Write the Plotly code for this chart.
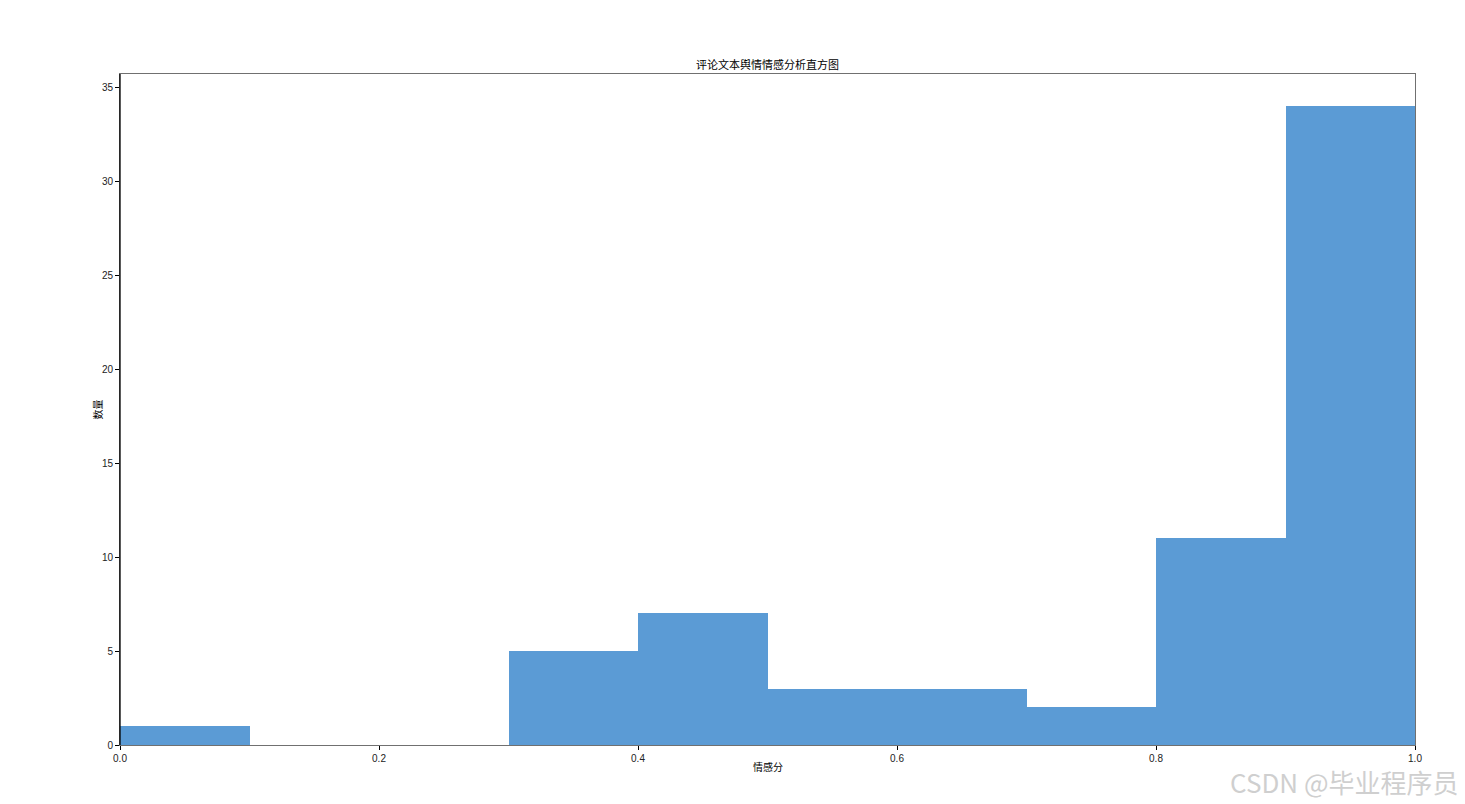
import plotly.graph_objects as go

bin_edges = [0.0, 0.1, 0.2, 0.3, 0.4, 0.5, 0.6, 0.7, 0.8, 0.9, 1.0]
counts = [1, 0, 0, 5, 7, 3, 3, 2, 11, 34]
x_ticks = [0.0, 0.2, 0.4, 0.6, 0.8, 1.0]
x_tick_labels = ["0.0", "0.2", "0.4", "0.6", "0.8", "1.0"]
y_ticks = [0, 5, 10, 15, 20, 25, 30, 35]

title_text = "评论文本舆情情感分析直方图"
x_label = "情感分"
y_label = "数量"
watermark = "CSDN @毕业程序员"

centers = [(bin_edges[i] + bin_edges[i + 1]) / 2 for i in range(len(counts))]
widths = [bin_edges[i + 1] - bin_edges[i] for i in range(len(counts))]

font_cjk = "Noto Sans CJK SC, Liberation Sans, Arial, sans-serif"

W, H = 1457, 796

fig = go.Figure()
fig.add_trace(go.Bar(
    x=centers, y=counts, width=widths,
    marker=dict(color="#5B9BD5", line=dict(width=0)),
    hoverinfo="x+y",
))

fig.update_layout(
    width=W, height=H,
    margin=dict(l=112, r=50, t=66, b=59),
    plot_bgcolor="white", paper_bgcolor="white",
    showlegend=False,
    bargap=0,
    font=dict(family=font_cjk, size=10, color="#000000"),
    title=dict(text=title_text, x=(112 + 1295 / 2) / W, xanchor="center", y=1 - 57 / H, yanchor="middle",
               font=dict(size=11, family=font_cjk, color="#000")),
    xaxis=dict(
        range=[0, 1], tickvals=x_ticks, ticktext=x_tick_labels,
        showgrid=False, zeroline=False,
        ticks="outside", ticklen=4, tickcolor="#000", tickwidth=1,
        showline=True, linecolor="#707070", linewidth=1, mirror=True,
        tickfont=dict(size=10, family="Liberation Sans, Arial, sans-serif", color="#222"),
    ),
    yaxis=dict(
        range=[0, 35.7], tickvals=y_ticks,
        showgrid=False, zeroline=False,
        ticks="outside", ticklen=4, tickcolor="#000", tickwidth=1,
        showline=True, linecolor="#707070", linewidth=1, mirror=True,
        tickfont=dict(size=10, family="Liberation Sans, Arial, sans-serif", color="#222"),
    ),
)

# darker left spine
fig.add_shape(type="line", xref="paper", yref="paper", x0=0, x1=0, y0=0, y1=1,
              line=dict(color="#000", width=1.3))

# axis titles
fig.add_annotation(text=x_label, xref="paper", yref="paper", x=0.5, y=0,
                   xanchor="center", yanchor="middle", yshift=-21, showarrow=False,
                   font=dict(size=10, family=font_cjk, color="#000"))
fig.add_annotation(text=y_label, xref="paper", yref="paper", x=0, y=0.5,
                   xanchor="center", yanchor="middle", xshift=-23, textangle=-90, showarrow=False,
                   font=dict(size=10, family=font_cjk, color="#000"))

fig.add_annotation(
    text=watermark, xref="paper", yref="paper",
    x=1, y=0, xanchor="right", yanchor="middle",
    xshift=45, yshift=-36, showarrow=False, borderpad=0,
    font=dict(size=26, family=font_cjk, color="#cfcfcf"),
)

fig.write_html("out.html")
